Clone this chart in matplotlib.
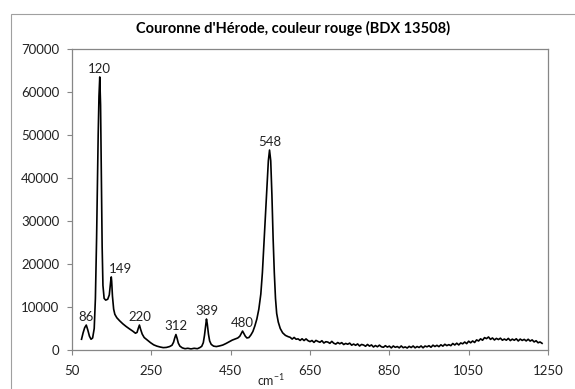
import matplotlib
matplotlib.use("Agg")
import matplotlib.pyplot as plt
from matplotlib.patches import Rectangle

plt.rcParams['font.family'] = ['Lato', 'DejaVu Sans']

title = "Couronne d'Hérode, couleur rouge (BDX 13508)"

# Raman shift (cm-1) and intensity
shift_low = [74, 78, 82, 86, 90, 94, 98, 102, 106, 109, 112, 114, 116, 118, 120, 122, 124,
             126, 128, 131, 135, 140, 144, 146, 148, 149, 150, 152, 155, 158, 163, 170, 178,
             186, 195, 203, 210, 214, 217, 220, 223, 227, 232, 240, 248, 256, 264, 272, 280,
             288, 296, 302, 306, 309, 312, 315, 318, 322, 328, 335, 342, 350, 358, 366, 372,
             377, 381, 384, 387, 389, 391, 394, 397, 401, 407, 414, 422, 430, 438, 446, 454,
             462, 468, 473, 477, 480, 483, 487, 491, 496, 501, 506, 511, 516, 521, 526, 530,
             534, 538, 542, 545, 548, 551, 554, 557, 560, 563, 566, 570, 575, 581, 588, 595]
counts_low = [2500, 4000, 5200, 5800, 4600, 3200, 2500, 2800, 5000, 12000, 26000, 38000,
              50000, 59000, 63500, 57000, 40000, 24000, 15000, 12000, 11600, 11800, 12800,
              14600, 16400, 17000, 16000, 12500, 9500, 8300, 7500, 6800, 6100, 5500, 4900,
              4400, 3900, 4100, 5000, 5800, 4800, 3700, 2900, 2300, 1700, 1200, 900, 700,
              550, 600, 800, 1100, 1800, 2800, 3600, 2700, 1600, 900, 500, 300, 400, 250,
              400, 300, 550, 850, 1700, 3400, 5800, 7200, 6100, 3700, 2100, 1300, 900, 800,
              950, 1150, 1500, 1900, 2300, 2600, 2800, 3200, 3900, 4400, 3900, 3200, 2800,
              2900, 3500, 4300, 5600, 7200, 9500, 13000, 18000, 25000, 32000, 39000, 44000,
              46500, 44000, 36000, 26000, 18000, 12000, 8500, 6500, 5000, 4000, 3400, 3100]

shift_high = [600, 605, 610, 615, 620, 625, 630, 635, 640, 645, 650, 655, 660, 665, 670, 675,
              680, 685, 690, 695, 700, 705, 710, 715, 720, 725, 730, 735, 740, 745, 750, 755,
              760, 765, 770, 775, 780, 785, 790, 795, 800, 805, 810, 815, 820, 825, 830, 835,
              840, 845, 850, 855, 860, 865, 870, 875, 880, 885, 890, 895, 900, 905, 910, 915,
              920, 925, 930, 935, 940, 945, 950, 955, 960, 965, 970, 975, 980, 985, 990, 995,
              1000, 1005, 1010, 1015, 1020, 1025, 1030, 1035, 1040, 1045, 1050, 1055, 1060,
              1065, 1070, 1075, 1080, 1085, 1090, 1095, 1100, 1105, 1110, 1115, 1120, 1125,
              1130, 1135, 1140, 1145, 1150, 1155, 1160, 1165, 1170, 1175, 1180, 1185, 1190,
              1195, 1200, 1205, 1210, 1215, 1220, 1225, 1230, 1235]
counts_high = [2950, 2540, 2920, 2500, 2590, 2230, 2610, 2200, 2580, 2170, 1950, 2210, 1770,
               2230, 1990, 1800, 2160, 1620, 1930, 1840, 1550, 2010, 1570, 1380, 1740, 1450,
               1710, 1270, 1530, 1340, 1600, 1120, 1380, 1100, 1410, 930, 1290, 1160, 870,
               1290, 900, 1180, 700, 1030, 750, 1130, 750, 630, 1000, 680, 900, 490, 930, 620,
               810, 500, 940, 530, 720, 460, 850, 570, 930, 500, 810, 580, 940, 510, 920, 740,
               1000, 640, 1120, 810, 1090, 780, 1210, 900, 1330, 1020, 1250, 1010, 1510, 1170,
               1580, 1180, 1640, 1440, 1850, 1480, 2050, 1680, 2100, 1750, 2350, 2100, 2600,
               2270, 2880, 2650, 3030, 2470, 2800, 2330, 2700, 2430, 2750, 2280, 2550, 2280,
               2700, 2190, 2530, 2270, 2610, 2100, 2540, 2230, 2470, 2110, 2500, 2080, 2350,
               1880, 2150, 1680, 1870, 1550]

peak_labels = [86, 120, 149, 220, 312, 389, 480, 548]
peak_heights = [5800, 63500, 17000, 5800, 3600, 7200, 4400, 46500]
label_dx = [0, 0, 6.5, 0, 0, 0, 0, 0]

x_ticks = [50, 250, 450, 650, 850, 1050, 1250]
y_ticks = [0, 10000, 20000, 30000, 40000, 50000, 60000, 70000]

W, H = 575, 389
fig = plt.figure(figsize=(W / 100, H / 100), dpi=100)
fig.patch.set_facecolor('white')

# outer chart frame
fig.patches.append(Rectangle((11 / W, -0.1), 1.2, (H - 14) / H + 0.1,
                             transform=fig.transFigure, fill=False,
                             edgecolor='#a0a0a0', linewidth=0.8))

ax = fig.add_axes([72 / W, (H - 350) / H, 476 / W, 301 / H])
ax.plot(shift_low + shift_high, counts_low + counts_high, color='black', linewidth=1.2)

ax.set_xlim(50, 1250)
ax.set_ylim(0, 70000)
ax.set_xticks(x_ticks)
ax.set_xticklabels([str(v) for v in x_ticks])
ax.set_yticks(y_ticks)
ax.set_yticklabels([str(v) for v in y_ticks])
ax.tick_params(axis='both', direction='out', length=3.5, width=0.8, color='#868686',
               labelsize=9.5, labelcolor='#222222')
ax.tick_params(axis='y', pad=5.5)
ax.tick_params(axis='x', pad=7)
for sp in ax.spines.values():
    sp.set_color('#868686')
    sp.set_linewidth(0.9)

for lab, h, dx in zip(peak_labels, peak_heights, label_dx):
    ax.annotate(str(lab), xy=(lab, h), xytext=(dx, 1.5), textcoords='offset points',
                ha='center', va='bottom', fontsize=9.5, color='#222222')

fig.text(293 / W, 1 - 28 / H, title, ha='center', va='center', fontsize=10.5,
         fontweight='bold', color='black')
fig.text(271 / W, 1 - 388 / H, r'cm$^{\mathregular{-1}}$', ha='center', va='bottom',
         fontsize=9, color='#222222')

fig.savefig('out.png', dpi=100, facecolor='white')
